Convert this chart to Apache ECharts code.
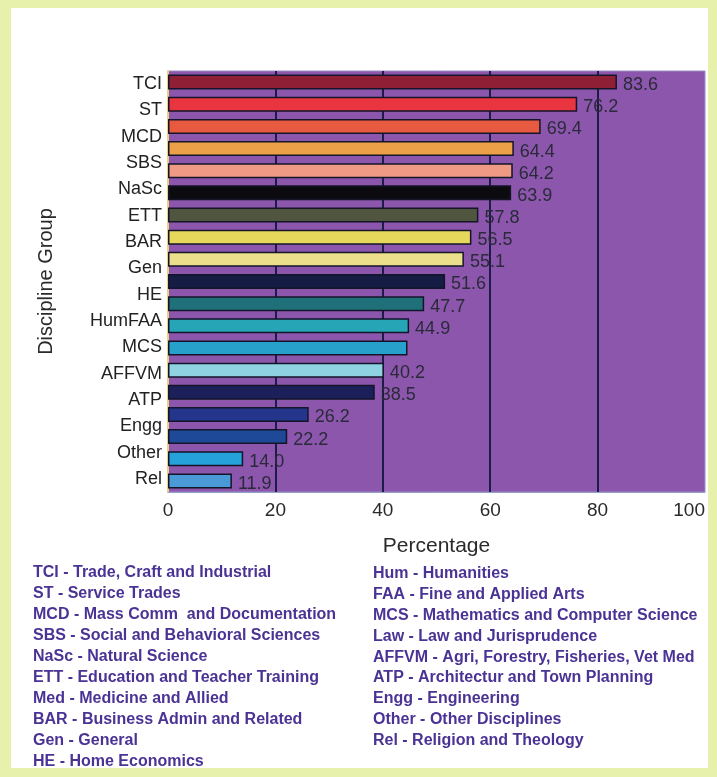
<!DOCTYPE html>
<html>
<head>
<meta charset="utf-8">
<script src="https://cdn.jsdelivr.net/npm/echarts@6/dist/echarts.min.js"></script>
<style>
  html, body { margin: 0; padding: 0; background: #e7f1ac; }
  #chart { width: 717px; height: 777px; }
</style>
</head>
<body>
<div id="chart"></div>
<script>
// Discipline groups, one bar each (top to bottom)
const groups = ['TCI', 'ST', 'MCD', 'SBS', 'NaSc', 'ETT', 'Med', 'BAR', 'Gen', 'HE',
  'Hum', 'FAA', 'MCS', 'Law', 'AFFVM', 'ATP', 'Engg', 'Other', 'Rel'];
const percentages = [83.6, 76.2, 69.4, 64.4, 64.2, 63.9, 57.8, 56.5, 55.1, 51.6,
  47.7, 44.9, 44.6, 40.2, 38.5, 26.2, 22.2, 14.0, 11.9];
// Which bars carry a printed value
const showValue = [true, true, true, true, true, true, true, true, true, true,
  true, true, false, true, true, true, true, true, true];
const barColors = ['#8e1f35', '#e83540', '#e85a40', '#eca048', '#ee9a84', '#0c0c10',
  '#50553f', '#e6d85a', '#ecdf8c', '#151d45', '#1f7078', '#25a5b5', '#28a0cc',
  '#8fd3e2', '#1b205a', '#23368c', '#1e4898', '#25a2da', '#4a9ad8'];

// Labels printed along the vertical axis
const axisNames = ['TCI', 'ST', 'MCD', 'SBS', 'NaSc', 'ETT', 'BAR', 'Gen', 'HE',
  'HumFAA', 'MCS', 'AFFVM', 'ATP', 'Engg', 'Other', 'Rel'];

// Abbreviation key under the chart
const keyLeft = [
  'TCI - Trade, Craft and Industrial',
  'ST - Service Trades',
  'MCD - Mass Comm  and Documentation',
  'SBS - Social and Behavioral Sciences',
  'NaSc - Natural Science',
  'ETT - Education and Teacher Training',
  'Med - Medicine and Allied',
  'BAR - Business Admin and Related',
  'Gen - General',
  'HE - Home Economics'
];
const keyRight = [
  'Hum - Humanities',
  'FAA - Fine and Applied Arts',
  'MCS - Mathematics and Computer Science',
  'Law - Law and Jurisprudence',
  'AFFVM - Agri, Forestry, Fisheries, Vet Med',
  'ATP - Architectur and Town Planning',
  'Engg - Engineering',
  'Other - Other Disciplines',
  'Rel - Religion and Theology'
];

const FONT = '"Liberation Sans", Arial, Helvetica, sans-serif';
const KEY_STYLE = { fontFamily: FONT, fontSize: 16, fontWeight: 'bold', fill: '#4a3394' };

const barData = groups.map((g, i) => ({
  value: percentages[i],
  itemStyle: { color: barColors[i] },
  label: { show: showValue[i] }
}));

const graphics = [
  { type: 'rect', z: -10, shape: { x: 11, y: 8, width: 697, height: 760 }, style: { fill: '#ffffff' } }
];
keyLeft.forEach((t, i) => {
  graphics.push({ type: 'text', x: 33, y: 573 + i * 21,
    style: Object.assign({ text: t, textVerticalAlign: 'middle', verticalAlign: 'middle' }, KEY_STYLE) });
});
keyRight.forEach((t, i) => {
  graphics.push({ type: 'text', x: 373, y: 574 + i * 20.8,
    style: Object.assign({ text: t, textVerticalAlign: 'middle', verticalAlign: 'middle' }, KEY_STYLE) });
});

const chart = echarts.init(document.getElementById('chart'));
chart.setOption({
  backgroundColor: '#e7f1ac',
  animation: false,
  textStyle: { fontFamily: FONT },
  grid: {
    left: 168, right: 12, top: 71, bottom: 285,
    show: true, backgroundColor: '#8b56ab', borderColor: '#9c8cc8', borderWidth: 1
  },
  xAxis: {
    type: 'value', min: 0, max: 100, interval: 20,
    name: 'Percentage', nameLocation: 'middle', nameGap: 44,
    nameTextStyle: { fontSize: 21, color: '#2a2a2a' },
    axisLine: { show: true, lineStyle: { color: '#8fa0c8', width: 1 } },
    axisTick: { show: false },
    axisLabel: { fontSize: 19, color: '#2a2a2a', margin: 9, alignMaxLabel: 'right' },
    splitLine: { show: true, showMinLine: false, showMaxLine: false,
      lineStyle: { color: '#1c1c48', width: 2 } }
  },
  yAxis: [
    {
      type: 'category', data: groups, inverse: true,
      name: 'Discipline Group', nameLocation: 'middle', nameGap: 112,
      nameTextStyle: { fontSize: 20, color: '#2a2a2a' },
      axisLine: { show: true, lineStyle: { color: '#e8d080', width: 2 } },
      axisTick: { show: false },
      axisLabel: { show: false }
    },
    {
      type: 'category', data: axisNames, inverse: true, position: 'left',
      axisLine: { show: false }, axisTick: { show: false }, splitLine: { show: false },
      axisLabel: { fontSize: 18, color: '#222222', margin: 6 }
    }
  ],
  series: [{
    type: 'bar',
    yAxisIndex: 0,
    data: barData,
    barWidth: 15,
    itemStyle: { borderColor: '#15152a', borderWidth: 1.5 },
    label: {
      position: 'right', distance: 6, offset: [0, 3],
      fontSize: 18, color: '#2a2a3a',
      formatter: p => p.value.toFixed(1)
    }
  }],
  graphic: graphics
});
</script>
</body>
</html>
